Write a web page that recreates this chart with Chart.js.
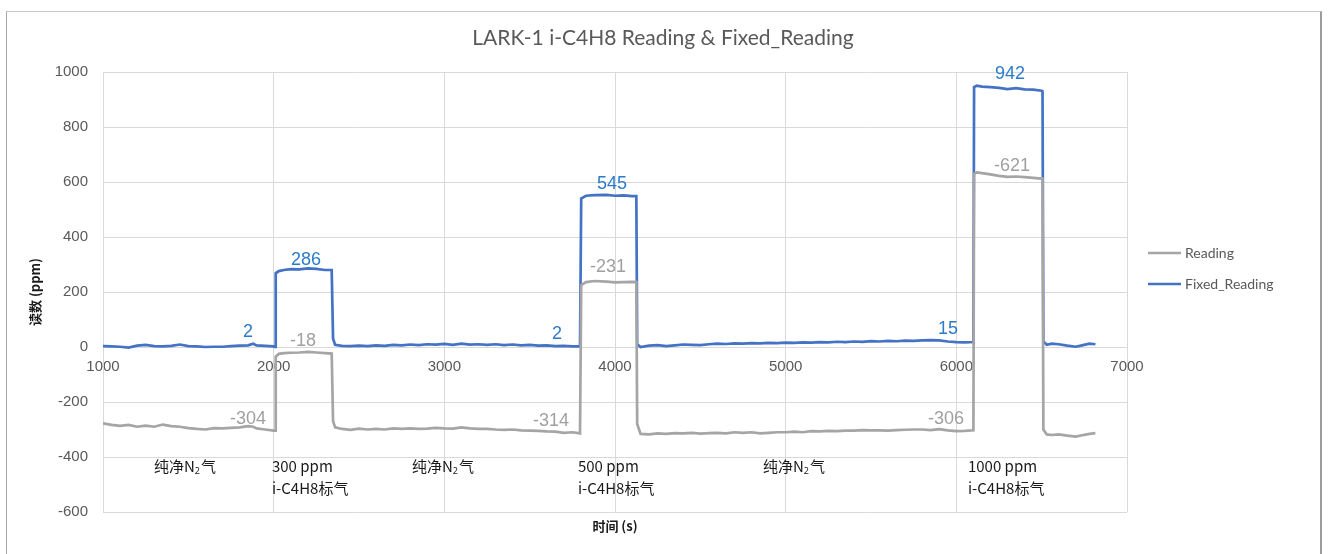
<!DOCTYPE html>
<html>
<head>
<meta charset="utf-8">
<script src="https://cdn.jsdelivr.net/npm/chart.js@4/dist/chart.umd.min.js"></script>
<style>
  html, body { margin: 0; padding: 0; background: #fff; }
  #wrap { position: relative; width: 1328px; height: 554px; overflow: hidden; }
  #frame {
    position: absolute; left: 6px; top: 11px; width: 1313px; height: 600px;
    border-left: 1px solid #a6a6a6; border-top: 1px solid #c8c8c8;
    border-right: 2px solid #9c9c9c;
  }
  #box { position: absolute; left: 0; top: 0; width: 1328px; height: 554px; }
</style>
</head>
<body>
<div id="wrap">
  <div id="frame"></div>
  <div id="box"><canvas id="chart"></canvas></div>
</div>
<script>
// time (s) - both series share the same sample times
const times = [
  1000, 1050, 1100, 1150, 1200, 1250, 1300, 1350, 1400, 1450, 1500, 1550, 1600, 1650, 1700, 1750, 1800, 1850, 1880, 1900, 1950, 2000, 2008,
  2012, 2030, 2060, 2100, 2150, 2200, 2250, 2300, 2340,
  2348, 2360, 2400, 2450, 2500, 2550, 2600, 2650, 2700, 2750, 2800, 2850, 2900, 2950, 3000, 3050, 3100, 3150, 3200, 3250, 3300, 3350, 3400, 3450, 3500, 3550, 3600, 3650, 3700, 3750, 3795,
  3802, 3830, 3880, 3950, 4000, 4050, 4100, 4125,
  4130, 4150, 4200, 4250, 4300, 4350, 4400, 4450, 4500, 4550, 4600, 4650, 4700, 4750, 4800, 4850, 4900, 4950, 5000, 5050, 5100, 5150, 5200, 5250, 5300, 5350, 5400, 5450, 5500, 5550, 5600, 5650, 5700, 5750, 5800, 5850, 5900, 5950, 6000, 6050, 6100,
  6104, 6120, 6150, 6200, 6250, 6300, 6350, 6400, 6450, 6500, 6505,
  6510, 6530, 6560, 6600, 6650, 6700, 6730, 6780, 6815
];

const readingValues = [
  -278, -283, -287, -283, -290, -286, -290, -282, -288, -290, -295, -298, -300, -295, -296, -294, -292, -288, -290, -296, -300, -304, -304,
  -35, -25, -22, -21, -20, -18, -20, -22, -24,
  -270, -292, -298, -301, -297, -300, -298, -300, -296, -298, -296, -298, -297, -294, -296, -297, -292, -296, -298, -298, -300, -301, -300, -303, -304, -305, -307, -308, -312, -310, -314,
  225, 236, 240, 238, 235, 236, 237, 236,
  -280, -316, -318, -314, -316, -313, -314, -312, -315, -313, -312, -314, -310, -312, -310, -314, -312, -310, -310, -308, -310, -306, -307, -305, -306, -304, -304, -302, -303, -303, -304, -302, -301, -300, -300, -302, -299, -303, -306, -305, -303,
  630, 635, 632, 628, 622, 619, 620, 618, 615, 612, 612,
  -300, -318, -320, -318, -322, -326, -322, -316, -313
];

const fixedValues = [
  3, 2, 1, -2, 5, 8, 3, 2, 4, 9, 3, 2, 0, 1, 1, 3, 5, 6, 12, 6, 4, 2, 0,
  268, 276, 280, 283, 282, 286, 284, 280, 280,
  30, 8, 4, 3, 5, 3, 6, 4, 8, 6, 9, 7, 10, 9, 11, 8, 12, 9, 10, 8, 10, 7, 9, 6, 8, 5, 6, 3, 4, 2, 2,
  540, 550, 552, 553, 550, 551, 549, 549,
  10, 0, 5, 7, 3, 6, 9, 8, 7, 10, 12, 11, 13, 12, 14, 13, 15, 14, 16, 15, 17, 16, 18, 17, 19, 18, 20, 19, 21, 20, 22, 21, 23, 22, 24, 25, 24, 20, 18, 17, 18,
  945, 950, 947, 945, 942, 938, 941, 937, 936, 932, 930,
  20, 8, 12, 10, 5, 1, 5, 12, 10
];

// value labels: text + anchor in data coordinates (time, value)
const fixedLabelText = ["2", "286", "2", "545", "15", "942"];
const fixedLabelTime = [1850, 2189, 3660, 3983, 5951, 6314];
const fixedLabelValue = [54, 318, 47, 591, 66, 993];

const readingLabelText = ["-304", "-18", "-314", "-231", "-306", "-621"];
const readingLabelTime = [1850, 2172, 3625, 3959, 5940, 6326];
const readingLabelValue = [-262, 22, -270, 292, -263, 657];

// gas phase notes under the curves
const phaseLine1 = ["纯净N2气", "300 ppm", "纯净N2气", "500 ppm", "纯净N2气", "1000 ppm"];
const phaseLine2 = ["", "i-C4H8标气", "", "i-C4H8标气", "", "i-C4H8标气"];
const phaseTime = [1299, 1990, 2810, 3783, 4867, 6068];
const phaseValue1 = -434;
const phaseValue2 = -515;

const xTicks = [1000, 2000, 3000, 4000, 5000, 6000, 7000];
const yTicks = [-600, -400, -200, 0, 200, 400, 600, 800, 1000];

const chartTitle = "LARK-1 i-C4H8 Reading & Fixed_Reading";

const BLUE = "#4472C4";
const GRAY = "#A5A5A5";
const GRID = "#d9d9d9";
const TEXT = "#595959";

const toPoints = (vals) => vals.map((v, i) => ({ x: times[i], y: v }));

// draws the title, value labels, phase notes, axis titles and the legend
const annotations = {
  id: "annotations",
  afterDatasetsDraw(chart) {
    const ctx = chart.ctx;
    const xs = chart.scales.x;
    const ys = chart.scales.y;
    const area = chart.chartArea;
    ctx.save();

    ctx.textAlign = "center";
    ctx.textBaseline = "middle";
    ctx.fillStyle = TEXT;
    ctx.font = "21px Lato, 'Open Sans', sans-serif";
    ctx.fillText(chartTitle, 663, 38);

    ctx.font = "18px 'Liberation Sans', Arial, sans-serif";
    ctx.fillStyle = "#2B7BC9";
    fixedLabelText.forEach((t, i) => {
      ctx.fillText(t, xs.getPixelForValue(fixedLabelTime[i]), ys.getPixelForValue(fixedLabelValue[i]));
    });
    ctx.fillStyle = "#A0A0A0";
    readingLabelText.forEach((t, i) => {
      ctx.fillText(t, xs.getPixelForValue(readingLabelTime[i]), ys.getPixelForValue(readingLabelValue[i]));
    });

    // phase notes, "N2" gets a small subscript 2
    ctx.textAlign = "left";
    ctx.fillStyle = "#1a1a1a";
    const big = "15px 'Noto Sans CJK SC', 'Noto Sans', sans-serif";
    const small = "9px 'Noto Sans', sans-serif";
    phaseLine1.forEach((t, i) => {
      let x = xs.getPixelForValue(phaseTime[i]);
      const y1 = ys.getPixelForValue(phaseValue1);
      const y2 = ys.getPixelForValue(phaseValue2);
      if (t.indexOf("N2") >= 0) {
        const [a, b] = t.split("N2");
        ctx.font = big;
        ctx.fillText(a + "N", x, y1);
        x += ctx.measureText(a + "N").width;
        ctx.font = small;
        ctx.fillText("2", x, y1 + 5);
        x += ctx.measureText("2").width + 1;
        ctx.font = big;
        ctx.fillText(b, x, y1);
      } else {
        ctx.font = big;
        ctx.fillText(t, x, y1);
      }
      if (phaseLine2[i]) {
        ctx.font = big;
        ctx.fillText(phaseLine2[i], xs.getPixelForValue(phaseTime[i]), y2);
      }
    });

    // axis titles
    ctx.fillStyle = "#1a1a1a";
    ctx.font = "bold 13px 'Noto Sans CJK SC', sans-serif";
    ctx.textAlign = "center";
    ctx.fillText("时间 (s)", (area.left + area.right) / 2, 526);
    ctx.save();
    ctx.translate(35, (area.top + area.bottom) / 2);
    ctx.rotate(-Math.PI / 2);
    ctx.fillText("读数 (ppm)", 0, 0);
    ctx.restore();

    // legend
    ctx.textAlign = "left";
    ctx.font = "14px Lato, 'Open Sans', sans-serif";
    chart.data.datasets.forEach((ds, i) => {
      const y = 253 + i * 31;
      ctx.strokeStyle = ds.borderColor;
      ctx.lineWidth = 2.5;
      ctx.beginPath();
      ctx.moveTo(1148, y);
      ctx.lineTo(1181, y);
      ctx.stroke();
      ctx.fillStyle = TEXT;
      ctx.fillText(ds.label, 1185, y);
    });

    ctx.restore();
  },
};

new Chart(document.getElementById("chart"), {
  type: "line",
  data: {
    datasets: [
      {
        label: "Reading",
        data: toPoints(readingValues),
        borderColor: GRAY,
        borderWidth: 2.7,
        pointRadius: 0,
        tension: 0,
      },
      {
        label: "Fixed_Reading",
        data: toPoints(fixedValues),
        borderColor: BLUE,
        borderWidth: 2.7,
        pointRadius: 0,
        tension: 0,
      },
    ],
  },
  options: {
    responsive: true,
    maintainAspectRatio: false,
    animation: false,
    layout: { padding: { left: 0, right: 201, top: 72, bottom: 42 } },
    plugins: {
      legend: { display: false },
      tooltip: { enabled: false },
      title: { display: false },
    },
    scales: {
      x: {
        type: "linear",
        position: { y: 0 },
        min: xTicks[0],
        max: xTicks[xTicks.length - 1],
        afterBuildTicks: (s) => { s.ticks = xTicks.map((v) => ({ value: v })); },
        grid: { color: GRID, drawTicks: false },
        border: { color: GRID },
        ticks: {
          color: TEXT,
          padding: 11,
          maxRotation: 0,
          autoSkip: false,
          callback: (v) => String(v),
          font: { family: "'Liberation Sans', Arial, sans-serif", size: 15 },
        },
      },
      y: {
        min: yTicks[0],
        max: yTicks[yTicks.length - 1],
        afterBuildTicks: (s) => { s.ticks = yTicks.map((v) => ({ value: v })); },
        afterFit: (s) => { s.width = 103; },
        grid: { color: GRID, drawTicks: false },
        border: { color: GRID },
        ticks: {
          color: TEXT,
          padding: 15,
          callback: (v) => String(v),
          font: { family: "'Liberation Sans', Arial, sans-serif", size: 15 },
        },
      },
    },
  },
  plugins: [annotations],
});
</script>
</body>
</html>
